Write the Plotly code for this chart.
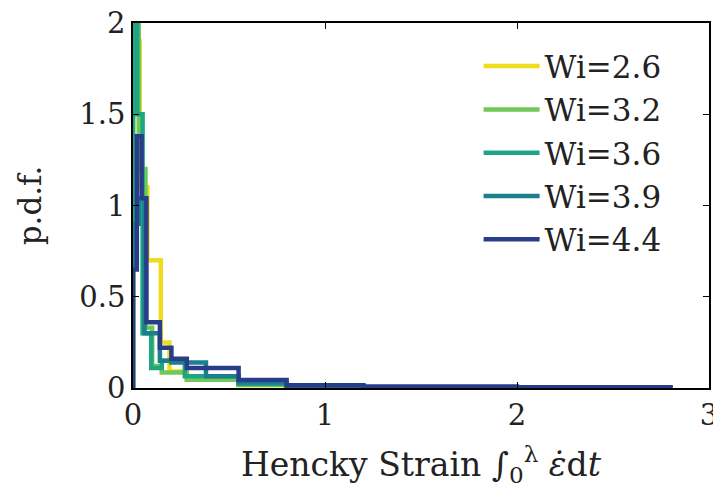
import plotly.graph_objects as go

# ---- data ----
series_names = ["Wi=2.6", "Wi=3.2", "Wi=3.6", "Wi=3.9", "Wi=4.4"]
series_colors = ["#f0dc1e", "#72c856", "#1fa583", "#1c7f8e", "#283d88"]

edges_26 = [0.0, 0.035, 0.075, 0.145, 0.19, 0.28, 0.55, 0.8, 1.2, 1.8, 2.8]
pdf_26 = [1.9, 1.1, 0.7, 0.25, 0.09, 0.055, 0.015, 0.008, 0.004, 0.002]

edges_32 = [0.0, 0.03, 0.065, 0.1, 0.15, 0.28, 0.55, 0.8, 1.2, 1.8, 2.6]
pdf_32 = [2.3, 1.2, 0.33, 0.12, 0.085, 0.045, 0.02, 0.008, 0.004, 0.002]

edges_36 = [0.0, 0.022, 0.05, 0.095, 0.15, 0.27, 0.55, 0.8, 1.2, 1.8, 2.6]
pdf_36 = [2.5, 1.5, 0.3, 0.11, 0.15, 0.065, 0.02, 0.008, 0.004, 0.002]

edges_39 = [0.0, 0.03, 0.06, 0.14, 0.2, 0.38, 0.55, 0.8, 1.2, 1.8, 2.7]
pdf_39 = [0.9, 1.04, 0.3, 0.15, 0.14, 0.065, 0.03, 0.01, 0.004, 0.002]

edges_44 = [0.0, 0.02, 0.045, 0.07, 0.14, 0.2, 0.28, 0.55, 0.8, 1.2, 2.0, 2.8]
pdf_44 = [0.65, 1.38, 1.04, 0.36, 0.22, 0.16, 0.11, 0.044, 0.015, 0.008, 0.004]

all_edges = [edges_26, edges_32, edges_36, edges_39, edges_44]
all_pdf = [pdf_26, pdf_32, pdf_36, pdf_39, pdf_44]

x_ticks = [0, 1, 2, 3]
x_ticktext = ["0", "1", "2", "3"]
y_ticks = [0, 0.5, 1, 1.5, 2]
y_ticktext = ["0", "0.5", "1", "1.5", "2"]

FONT = "DejaVu Serif"
TXT = "#222"

fig = go.Figure()
for name, col, e, v in zip(series_names, series_colors, all_edges, all_pdf):
    xs = [e[0]] + list(e)
    ys = [0] + list(v) + [0]
    fig.add_trace(go.Scatter(
        x=xs, y=ys, mode="lines", name=name,
        line=dict(color=col, width=4.5, shape="hv"),
    ))

axis_common = dict(
    showline=True, linecolor="black", linewidth=1.5, mirror="ticks",
    ticks="inside", ticklen=6, tickcolor="black", tickwidth=1.2,
    showgrid=False, zeroline=False, ticklabeloverflow="allow",
    automargin=False,
    tickfont=dict(family=FONT, size=29, color=TXT),
)

fig.update_layout(
    width=713, height=504,
    margin=dict(l=133, r=4, t=23, b=116),
    paper_bgcolor="white", plot_bgcolor="white",
    font=dict(family=FONT, color=TXT),
    xaxis=dict(range=[0, 3], tickvals=x_ticks, ticktext=x_ticktext,
               title=dict(text="Hencky Strain ∫<sub>0</sub><sup>λ</sup> <i>ε̇</i>d<i>t</i>",
                          font=dict(family=FONT, size=33, color=TXT), standoff=22),
               **axis_common),
    yaxis=dict(range=[0, 2], tickvals=y_ticks, ticktext=y_ticktext,
               title=dict(text="p.d.f.", font=dict(family=FONT, size=31, color=TXT),
                          standoff=28),
               **axis_common),
    legend=dict(x=0.6, y=0.955, xanchor="left", yanchor="top",
                bgcolor="rgba(0,0,0,0)", borderwidth=0,
                font=dict(family=FONT, size=31, color=TXT),
                itemwidth=56),
    showlegend=True,
)

fig.write_html("out.html")
